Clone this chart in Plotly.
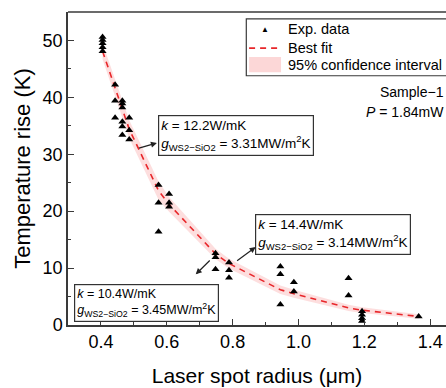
import plotly.graph_objects as go

# Experimental data (laser spot radius in um, temperature rise in K)
exp_r = [0.405, 0.405, 0.405, 0.405, 0.405,
         0.443, 0.443, 0.443,
         0.465, 0.465, 0.465, 0.465, 0.465, 0.465,
         0.486, 0.486, 0.486,
         0.575, 0.575, 0.575,
         0.607, 0.607, 0.607,
         0.748, 0.748, 0.748,
         0.789, 0.789, 0.789,
         0.945, 0.945, 0.945,
         0.986, 0.986,
         1.152, 1.152,
         1.193, 1.193, 1.193, 1.193,
         1.365]
exp_dT = [50.6, 50.1, 49.5, 48.8, 48.1,
          42.2, 39.4, 36.4,
          39.4, 38.9, 38.2, 35.7, 34.9, 33.4,
          36.4, 34.2, 32.6,
          24.6, 21.5, 16.4,
          23.0, 21.5, 20.8,
          12.6, 11.9, 9.8,
          11.0, 9.6, 8.3,
          10.3, 8.9, 3.6,
          7.5, 5.9,
          8.2, 5.2,
          2.4, 1.8, 1.2, 0.7,
          1.5]

# Best fit and 95% confidence interval
fit_r = [0.405, 0.443, 0.465, 0.486, 0.575, 0.607, 0.748, 0.789, 0.945, 0.986, 1.152, 1.193, 1.365]
fit_dT = [48.1, 41.6, 38.0, 34.4, 23.6, 21.2, 12.5, 10.8, 6.2, 5.5, 3.0, 2.6, 1.5]
ci_upper = [49.5, 43.1, 39.6, 36.0, 25.2, 22.5, 13.4, 11.65, 6.95, 6.2, 3.55, 3.1, 1.9]
ci_lower = [46.7, 40.1, 36.4, 32.8, 22.0, 19.9, 11.6, 9.95, 5.45, 4.8, 2.45, 2.1, 1.1]

x_ticks = [0.4, 0.6, 0.8, 1.0, 1.2, 1.4]
y_ticks = [0, 10, 20, 30, 40, 50]

FONT = "Liberation Sans, Arial, sans-serif"
AX = "#3a3a3a"
RED = "#e8262a"
PINK = "rgba(252,200,200,0.6)"

fig = go.Figure()
fig.add_trace(go.Scatter(x=fit_r, y=ci_upper, mode="lines", line=dict(width=0),
                         showlegend=False, hoverinfo="skip"))
fig.add_trace(go.Scatter(x=fit_r, y=ci_lower, mode="lines", line=dict(width=0),
                         fill="tonexty", fillcolor=PINK, showlegend=False, hoverinfo="skip"))
fig.add_trace(go.Scatter(x=fit_r, y=fit_dT, mode="lines",
                         line=dict(color=RED, width=1.6, dash="6px,5px"), showlegend=False))
fig.add_trace(go.Scatter(x=exp_r, y=exp_dT, mode="markers",
                         marker=dict(symbol="triangle-up", size=7, color="black"),
                         showlegend=False))

axis_common = dict(showline=True, linecolor=AX, linewidth=1.5, ticks="inside",
                   ticklen=6, tickwidth=1.2, tickcolor=AX, showgrid=False, zeroline=False,
                   tickfont=dict(family=FONT, size=18, color="black"),
                   minor=dict(ticks="inside", ticklen=3, tickwidth=1, tickcolor=AX))

fig.update_layout(
    width=446, height=388,
    margin=dict(l=68, r=0, t=12, b=63),
    plot_bgcolor="white", paper_bgcolor="white",
    xaxis=dict(range=[0.3, 1.448], tickvals=x_ticks, ticktext=[f"{v:.1f}" for v in x_ticks],
               minor_dtick=0.1, minor_tick0=0.3,
               title=dict(text="Laser spot radius (μm)", font=dict(family=FONT, size=21, color="black"),
                          standoff=17),
               **axis_common),
    yaxis=dict(range=[0, 55], tickvals=y_ticks, minor_dtick=5, minor_tick0=0,
               title=dict(text="Temperature rise (K)", font=dict(family=FONT, size=22, color="black"),
                          standoff=6),
               **axis_common),
)

# top frame line
fig.add_shape(type="line", xref="paper", yref="paper", x0=0, x1=1, y0=1, y1=1,
              line=dict(color=AX, width=1.5))

# Legend (manual, box clipped at right like the reference)
fig.add_shape(type="rect", xref="x", yref="y", x0=0.8415, x1=1.6, y0=43.8, y1=53.8,
              line=dict(color=AX, width=1.2), fillcolor="white", layer="above")
fig.add_annotation(x=0.899, y=52.0, xref="x", yref="y", text="▲", showarrow=False,
                   font=dict(size=8, color="black", family=FONT))
fig.add_shape(type="line", xref="x", yref="y", x0=0.850, x1=0.950, y0=48.65, y1=48.65,
              line=dict(color=RED, width=1.6, dash="6px,5px"), layer="above")
fig.add_shape(type="rect", xref="x", yref="y", x0=0.850, x1=0.947, y0=44.4, y1=47.1,
              line=dict(width=0), fillcolor="rgba(252,215,215,1)", layer="above")
for yy, txt in [(52.0, "Exp. data"), (48.65, "Best fit"), (45.6, "95% confidence interval")]:
    fig.add_annotation(x=0.961, y=yy, xref="x", yref="y", text=txt, showarrow=False,
                       xanchor="left", yanchor="middle",
                       font=dict(size=14.5, color="black", family=FONT))

# Sample info
fig.add_annotation(x=1.0, y=41.0, xref="paper", yref="y", text="Sample−1", showarrow=False,
                   xanchor="right", yanchor="middle", font=dict(size=14, color="black", family=FONT))
fig.add_annotation(x=1.0, y=37.4, xref="paper", yref="y", text="<i>P</i> = 1.84mW", showarrow=False,
                   xanchor="right", yanchor="middle", font=dict(size=14, color="black", family=FONT))

# Boxed fit-result labels
boxes = [
    (0.574, 36.9, 13.5, "<i>k</i> = 12.2W/mK<br><i>g</i><sub>WS2−SiO2</sub> = 3.31MW/m<sup>2</sup>K"),
    (0.869, 19.5, 13.5, "<i>k</i> = 14.4W/mK<br><i>g</i><sub>WS2−SiO2</sub> = 3.14MW/m<sup>2</sup>K"),
    (0.319, 7.2, 12.5, "<i>k</i> = 10.4W/mK<br><i>g</i><sub>WS2−SiO2</sub> = 3.45MW/m<sup>2</sup>K"),
]
for bx, by, fs, txt in boxes:
    fig.add_annotation(x=bx, y=by, xref="x", yref="y", text=txt, showarrow=False,
                       xanchor="left", yanchor="top", align="left",
                       bordercolor="#333", borderwidth=1.2, borderpad=2, bgcolor="white",
                       font=dict(size=fs, color="black", family=FONT))

# Arrows from curve to boxes
arrows = [((0.511, 31.0), (0.570, 32.0)),
          ((0.809, 11.1), (0.870, 13.7)),
          ((0.735, 11.6), (0.688, 8.9))]
for (tx, ty), (hx, hy) in arrows:
    fig.add_annotation(x=hx, y=hy, ax=tx, ay=ty, xref="x", yref="y", axref="x", ayref="y",
                       text="", showarrow=True, arrowhead=2, arrowsize=1, arrowwidth=1.2,
                       arrowcolor="#222", standoff=0, startstandoff=0)

fig.write_html("out.html")
